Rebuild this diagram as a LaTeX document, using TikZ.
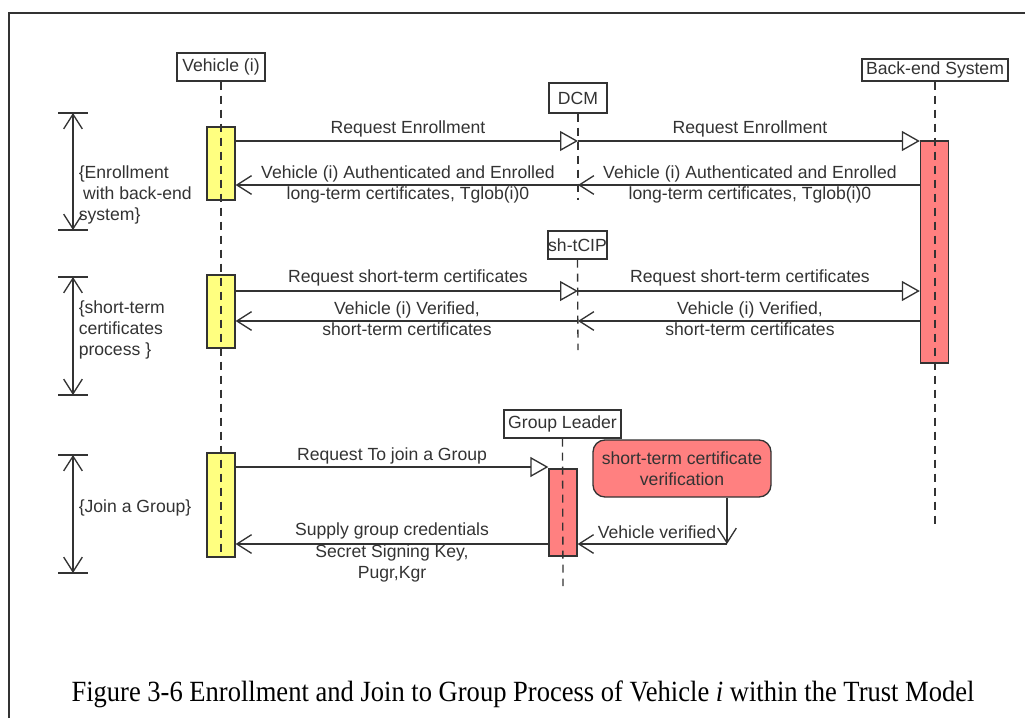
\documentclass[tikz,border=0pt]{standalone}
\usepackage{fontspec}
\setmainfont{Liberation Serif}
\newfontfamily\arial{Liberation Sans}
\usetikzlibrary{arrows.meta}
\definecolor{ink}{HTML}{333333}
\definecolor{ybar}{HTML}{FFFF80}
\definecolor{rbar}{HTML}{FF8080}
\tikzset{
  lbl/.style={font=\arial\fontsize{13.2}{15.8}\selectfont, text=ink, inner sep=0pt, align=center},
  head/.style={draw=ink, line width=1pt, fill=white, font=\arial\fontsize{13.2}{15.8}\selectfont, text=ink, inner xsep=2.5pt, inner ysep=0pt},
  life/.style={draw=ink, line width=1pt, dash pattern=on 6pt off 4.5pt},
  yact/.style={draw=ink, line width=1pt, fill=ybar, minimum width=21pt, inner sep=0pt},
  ract/.style={draw=ink, line width=1pt, fill=rbar, minimum width=21pt, inner sep=0pt},
  req/.style={draw=ink, line width=1pt, -{Triangle[length=13.5pt,width=15pt,fill=white,line width=1pt]}},
  ret/.style={draw=ink, line width=1pt, -{Straight Barb[length=11pt,width=14pt,line width=1pt]}},
  dim/.style={draw=ink, line width=1pt, {Straight Barb[length=11pt,width=14pt,line width=1pt]}-{Straight Barb[length=11pt,width=14pt,line width=1pt]}},
  tick/.style={draw=ink, line width=1pt},
  frame/.style={draw=black!80, line width=1pt}
}
\begin{document}
\begin{tikzpicture}[x=0.75pt,y=-0.75pt]
\useasboundingbox (0,0) rectangle (1025,718);
\draw[frame] (9,718) -- (9,13) -- (1025,13);

% activation bars
\node[yact, minimum height=54.75pt] (vb1) at (221,163.5) {};
\node[yact, minimum height=54.75pt] (vb2) at (221,311.5) {};
\node[yact, minimum height=78pt] (vb3) at (221,505) {};
\node[ract, minimum height=166.5pt] (bb) at (934.5,252) {};
\node[ract, minimum height=65.25pt] (gb) at (563,512.5) {};

% heads
\node[head, minimum width=66pt, minimum height=21pt] (veh) at (221,67) {Vehicle (i)};
\node[head, minimum width=43.5pt, minimum height=22.5pt] (dcm) at (578,98) {DCM};
\node[head, minimum width=44.25pt, minimum height=21pt, inner xsep=0pt] (tcip) at (577.5,245) {sh-tCIP};
\node[head, minimum width=109.5pt, minimum height=16.5pt] (be) at (935,70) {Back-end System};
\node[head, minimum width=87.75pt, minimum height=21pt] (gl) at (562.5,424) {Group Leader};

% lifeline ends
\coordinate (vehE) at (221,557);
\coordinate (dcmE) at (578,200);
\coordinate (tcipE) at (578,350);
\coordinate (beE) at (935,528);
\coordinate (glE) at (563,586);
\draw[life] (veh.south) -- (vehE);
\draw[life] (dcm.south) -- (dcmE);
\draw[life] (tcip.south) -- (tcipE);
\draw[life] (be.south) -- (beE);
\draw[life] (gl.south) -- (glE);

% message anchor coordinates
\coordinate (d1) at (578,141);
\coordinate (d2) at (578,185);
\coordinate (s1) at (578,291);
\coordinate (s2) at (578,321);

% enrollment
\draw[req] (vb1.east |- d1) -- (d1);
\draw[req] (d1) -- (bb.west |- d1);
\draw[ret] (bb.west |- d2) -- (d2);
\draw[ret] (d2) -- (vb1.east |- d2);
\node[lbl] (l1) at (408,129) {Request Enrollment};
\node[lbl] (l2) at (750,129) {Request Enrollment};
\node[lbl] (l3) at (750,184.5) {Vehicle (i) Authenticated and Enrolled\\long-term certificates, Tglob(i)0};
\node[lbl] (l4) at (408,184.5) {Vehicle (i) Authenticated and Enrolled\\long-term certificates, Tglob(i)0};

% short-term
\draw[req] (vb2.east |- s1) -- (s1);
\draw[req] (s1) -- (bb.west |- s1);
\draw[ret] (bb.west |- s2) -- (s2);
\draw[ret] (s2) -- (vb2.east |- s2);
\node[lbl] (l5) at (408,278) {Request short-term certificates};
\node[lbl] (l6) at (750,278) {Request short-term certificates};
\node[lbl] (l7) at (750,319) {Vehicle (i) Verified,\\short-term certificates};
\node[lbl] (l8) at (407,319) {Vehicle (i) Verified,\\short-term certificates};

% join a group
\coordinate (g1) at (549,467);
\coordinate (g2) at (549,544);
\draw[req] (vb3.east |- g1) -- (gb.west |- g1);
\draw[ret] (gb.west |- g2) -- (vb3.east |- g2);
\node[lbl] (l9) at (392,456) {Request To join a Group};
\node[lbl] (l10) at (392,552.5) {Supply group credentials\\Secret Signing Key,\\Pugr,Kgr};

% verification box
\node[draw=ink, line width=1pt, fill=rbar, rounded corners=9pt, minimum width=133.5pt, minimum height=42.75pt, font=\arial\fontsize{13.2}{15.8}\selectfont, text=ink, align=center] (rb) at (682,468.5) {short-term certificate\\verification};
\coordinate (vv) at (727,544);
\draw[ret] (rb.south -| vv) -- (vv);
\draw[ret] (vv) -- (gb.east |- vv);
\node[lbl] (l11) at (657,532) {Vehicle verified};

% dimension markers
\coordinate (a1) at (73,113); \coordinate (b1) at (73,230);
\coordinate (a2) at (73,277); \coordinate (b2) at (73,395);
\coordinate (a3) at (73,455); \coordinate (b3) at (73,573);
\foreach \p in {a1,b1,a2,b2,a3,b3} { \draw[tick] ([xshift=-11.25pt]\p) -- ([xshift=11.25pt]\p); }
\draw[dim] (a1) -- (b1);
\draw[dim] (a2) -- (b2);
\draw[dim] (a3) -- (b3);
\node[lbl, align=left, anchor=west] (t1) at (78.5,195) {\{Enrollment\\\hspace*{0.25em}with back-end\\system\}};
\node[lbl, align=left, anchor=west] (t2) at (78.5,330) {\{short-term\\certificates\\process \}};
\node[lbl, align=left, anchor=west] (t3) at (78.5,508) {\{Join a Group\}};

% caption
\node[font=\fontsize{22}{26}\selectfont, inner sep=0pt] (cap) at (523,694) {\scalebox{0.905}[1]{Figure 3-6 Enrollment and Join to Group Process of Vehicle \textit{i} within the Trust Model}};
\end{tikzpicture}
\end{document}
